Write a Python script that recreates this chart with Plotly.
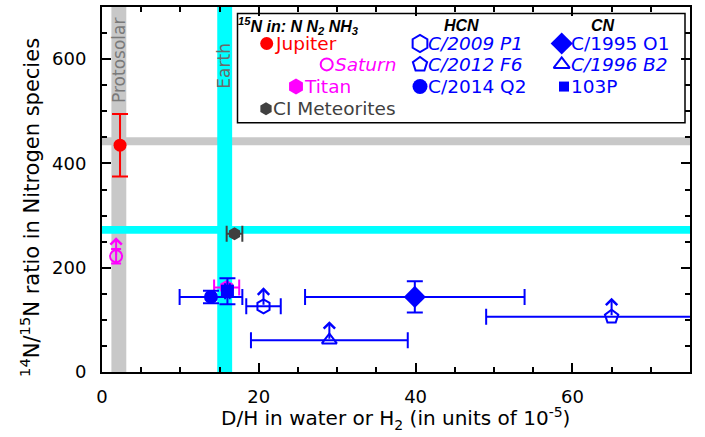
import plotly.graph_objects as go

# ---------------- data ----------------
x_range = [0, 75]
y_range = [0, 700]
x_ticks = [0, 20, 40, 60]
y_ticks = [0, 200, 400, 600]

protosolar_dh = [1.2, 3.1]        # vertical grey band (D/H)
earth_dh = [14.7, 16.6]           # vertical cyan band (D/H)
protosolar_n = [435, 450]         # horizontal grey band (14N/15N)
earth_n = [265, 280]              # horizontal cyan band (14N/15N)

names = ["Jupiter", "Saturn", "CI Meteorites", "Titan", "C/2014 Q2", "103P",
         "C/1995 O1", "C/2009 P1", "C/2012 F6", "C/1996 B2"]
dh = [2.3, 1.8, 16.9, 15.9, 13.9, 16.0, 39.9, 20.6, 65.0, 29.0]
dh_err = [0, 0, 1.0, 1.6, 4.0, 0.3, 14.0, 2.2, 16.0, 10.0]
n_ratio = [435, 222, 265, 162, 144, 155, 144, 126, 106, 61]
n_err = [60, 14, 0, 0, 12, 25, 30, 0, 0, 0]
lower_limit = [False, True, False, False, False, False, False, True, True, True]

BLUE = "#0000ff"
RED = "#ff0000"
MAG = "#ff00ff"
GREY = "#404040"
styles = {
    "Jupiter": dict(symbol="circle", color=RED, size=13),
    "Saturn": dict(symbol="circle-open", color=MAG, size=12),
    "CI Meteorites": dict(symbol="hexagon", color=GREY, size=13),
    "Titan": dict(symbol="hexagon", color=MAG, size=15),
    "C/2014 Q2": dict(symbol="circle", color=BLUE, size=14),
    "103P": dict(symbol="square", color=BLUE, size=13),
    "C/1995 O1": dict(symbol="diamond", color=BLUE, size=17),
    "C/2009 P1": dict(symbol="hexagon-open", color=BLUE, size=14),
    "C/2012 F6": dict(symbol="pentagon-open", color=BLUE, size=14),
    "C/1996 B2": dict(symbol="triangle-up-open", color=BLUE, size=13),
}

# ---------------- geometry of the plot area (pixels) ----------------
W, H = 705, 437
L, R, T, B = 102, 15, 5, 65
PX0, PX1 = L, W - R
PY0, PY1 = T, H - B


def px(xp):
    return (xp - PX0) / (PX1 - PX0)


def py(yp):
    return (PY1 - yp) / (PY1 - PY0)


fig = go.Figure()

# bands
shapes = []
shapes.append(dict(type="rect", xref="x", yref="paper", x0=protosolar_dh[0], x1=protosolar_dh[1],
                   y0=0, y1=1, fillcolor="#c8c8c8", line_width=0, layer="below"))
shapes.append(dict(type="rect", xref="paper", yref="y", x0=0, x1=1, y0=protosolar_n[0],
                   y1=protosolar_n[1], fillcolor="#c8c8c8", line_width=0, layer="below"))
shapes.append(dict(type="rect", xref="x", yref="paper", x0=earth_dh[0], x1=earth_dh[1],
                   y0=0, y1=1, fillcolor="#00ffff", line_width=0, layer="below"))
shapes.append(dict(type="rect", xref="paper", yref="y", x0=0, x1=1, y0=earth_n[0],
                   y1=earth_n[1], fillcolor="#00ffff", line_width=0, layer="below"))
# legend box
shapes.append(dict(type="rect", xref="paper", yref="paper", x0=px(237.5), x1=px(685),
                   y0=py(121.5), y1=py(11.5),
                   fillcolor="white", line=dict(color="black", width=1.5), layer="below"))

annotations = []

for i, nm in enumerate(names):
    st = styles[nm]
    open_sym = st["symbol"].endswith("open")
    fig.add_trace(go.Scatter(
        x=[dh[i]], y=[n_ratio[i]], mode="markers", name=nm, showlegend=False,
        marker=dict(symbol=st["symbol"], size=st["size"], color=st["color"],
                    line=dict(width=2 if open_sym else 0, color=st["color"])),
        error_x=dict(type="data", array=[dh_err[i]], visible=dh_err[i] > 0,
                     color=st["color"], thickness=2, width=8),
        error_y=dict(type="data", array=[n_err[i]], visible=n_err[i] > 0,
                     color=st["color"], thickness=2, width=8 if nm != "Saturn" else 5),
        xaxis="x", yaxis="y",
    ))
    if lower_limit[i]:
        annotations.append(dict(x=dh[i], y=n_ratio[i], xref="x", yref="y", text="",
                                showarrow=True, ax=0, ay=19, yshift=19, arrowhead=4,
                                arrowsize=1.1, arrowwidth=2, arrowcolor=st["color"]))

# ---------------- legend (pixel coordinate overlay axes) ----------------
leg_rows = [41.7, 62.7, 85.0, 107.3]
legend_items = [
    # name, marker x, row, text x, italic
    ("Jupiter", 266.7, 0, 273, False),
    ("Saturn", 326.7, 1, 333, True),
    ("Titan", 296.0, 2, 302, False),
    ("CI Meteorites", 266.0, 3, 271, False),
    ("C/2009 P1", 420.0, 0, 426, True),
    ("C/2012 F6", 420.0, 1, 426, True),
    ("C/2014 Q2", 420.0, 2, 426, False),
    ("C/1995 O1", 561.7, 0, 569, False),
    ("C/1996 B2", 561.7, 1, 569, True),
    ("103P", 564.0, 2, 569, False),
]
leg_sizes = {"Jupiter": 13, "Saturn": 12, "Titan": 16, "CI Meteorites": 13,
             "C/2009 P1": 17, "C/2012 F6": 15, "C/2014 Q2": 15,
             "C/1995 O1": 17, "C/1996 B2": 14, "103P": 10}
for nm, mx, row, tx, ital in legend_items:
    st = styles[nm]
    open_sym = st["symbol"].endswith("open")
    fig.add_trace(go.Scatter(
        x=[mx], y=[leg_rows[row]], mode="markers", showlegend=False, hoverinfo="skip",
        marker=dict(symbol=st["symbol"], size=leg_sizes[nm], color=st["color"],
                    line=dict(width=2 if open_sym else 0, color=st["color"])),
        xaxis="x2", yaxis="y2", cliponaxis=False,
    ))
    annotations.append(dict(x=px(tx), y=py(leg_rows[row]), xref="paper", yref="paper",
                            text=f"<i>{nm}</i>" if ital else nm, showarrow=False,
                            xanchor="left", yanchor="middle",
                            font=dict(family="DejaVu Sans", size=18.5, color=st["color"])))

hdr_font = dict(family="Liberation Sans", size=16, color="black")
annotations.append(dict(x=px(236), y=py(24), xref="paper", yref="paper", xanchor="left",
                        yanchor="middle", showarrow=False, font=hdr_font,
                        text="<b><i><sup>15</sup>N in: N N<sub>2</sub> NH<sub>3</sub></i></b>"))
annotations.append(dict(x=px(461.7), y=py(24), xref="paper", yref="paper", xanchor="center",
                        yanchor="middle", text="<b><i>HCN</i></b>", showarrow=False, font=hdr_font))
annotations.append(dict(x=px(602.7), y=py(24), xref="paper", yref="paper", xanchor="center",
                        yanchor="middle", text="<b><i>CN</i></b>", showarrow=False, font=hdr_font))

# band labels
annotations.append(dict(x=px(118.3), y=py(59), xref="paper", yref="paper", text="Protosolar",
                        textangle=-90, showarrow=False, xanchor="center", yanchor="middle",
                        font=dict(family="DejaVu Sans", size=17, color="#7a7a7a")))
annotations.append(dict(x=px(224.5), y=py(64.5), xref="paper", yref="paper", text="Earth",
                        textangle=-90, showarrow=False, xanchor="center", yanchor="middle",
                        font=dict(family="DejaVu Sans", size=17, color="#6a6a6a")))

# axis titles
annotations.append(dict(x=px(395), y=py(419), xref="paper", yref="paper", showarrow=False,
                        xanchor="center", yanchor="middle",
                        text="D/H in water or H<sub>2</sub> (in units of 10<sup>-5</sup>)",
                        font=dict(family="DejaVu Sans", size=20, color="black")))
annotations.append(dict(x=px(30), y=py(207), xref="paper", yref="paper", showarrow=False,
                        textangle=-90, xanchor="center", yanchor="middle",
                        text="<sup>14</sup>N/<sup>15</sup>N ratio in Nitrogen species",
                        font=dict(family="DejaVu Sans", size=21, color="black")))

axis_common = dict(showline=True, linewidth=2, linecolor="black", mirror="ticks",
                   ticks="inside", ticklen=9, tickwidth=1.5, tickcolor="black",
                   showgrid=False, zeroline=False,
                   tickfont=dict(family="DejaVu Sans", size=18, color="black"))

fig.update_layout(
    width=W, height=H,
    margin=dict(l=L, r=R, t=T, b=B),
    plot_bgcolor="rgba(0,0,0,0)", paper_bgcolor="white",
    xaxis=dict(range=x_range, tickvals=x_ticks, ticklabelstandoff=7,
               minor=dict(ticks="inside", dtick=5, ticklen=5, tickwidth=1.5, tickcolor="black"),
               **axis_common),
    yaxis=dict(range=y_range, tickvals=y_ticks, ticklabelstandoff=10,
               minor=dict(ticks="inside", dtick=50, ticklen=5, tickwidth=1.5, tickcolor="black"),
               **axis_common),
    xaxis2=dict(range=[PX0, PX1], overlaying="x", visible=False, fixedrange=True),
    yaxis2=dict(range=[PY1, PY0], overlaying="y", visible=False, fixedrange=True),
    shapes=shapes,
    annotations=annotations,
)

fig.write_html("out.html", config={"displayModeBar": False},
               post_script="document.body.style.margin='0';")
